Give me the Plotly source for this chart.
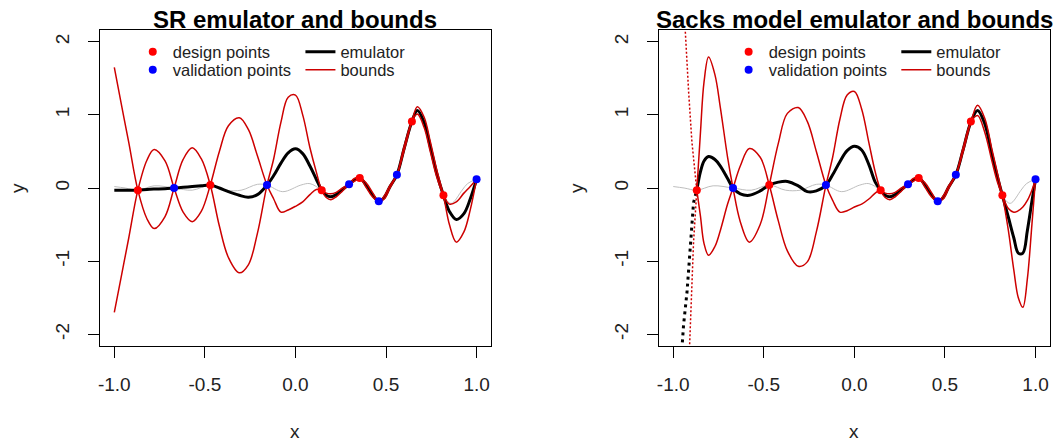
import plotly.graph_objects as go

W, H = 1060, 443
FONT = "Liberation Sans, Arial, sans-serif"

# ---- observations (same for both panels) ----
design_x = [-0.87, -0.47, 0.145, 0.355, 0.643, 0.817]
design_y = [-0.03, 0.04, -0.03, 0.137, 0.91, -0.10]
valid_x = [-0.67, -0.157, 0.296, 0.46, 0.56, 1.0]
valid_y = [0.0, 0.04, 0.05, -0.18, 0.18, 0.12]

# ---- true function ----
truth_x = [-1.0, -0.94, -0.87, -0.78, -0.67, -0.57, -0.47, -0.38, -0.30, -0.21,
           -0.157, -0.07, 0.03, 0.08, 0.145, 0.196, 0.26, 0.296, 0.355, 0.39,
           0.425, 0.46, 0.52, 0.56, 0.60, 0.643, 0.673, 0.71, 0.745, 0.78,
           0.817, 0.86, 0.92, 0.95, 1.0]
truth_y = [0.02, 0.0, -0.03, 0.03, 0.0, -0.03, 0.04, -0.03, -0.03, 0.05,
           0.04, -0.05, 0.04, 0.06, -0.03, -0.12, -0.02, 0.05, 0.137, 0.04,
           -0.09, -0.18, 0.01, 0.18, 0.53, 0.91, 1.06, 0.90, 0.56, 0.20,
           -0.10, -0.21, -0.03, 0.06, 0.12]

# ---- SR emulator (left panel) ----
sr_x = [-1.0, -0.96, -0.92, -0.87, -0.82, -0.78, -0.72, -0.67, -0.62, -0.57,
        -0.52, -0.47, -0.42, -0.37, -0.31, -0.26, -0.21, -0.157, -0.12, -0.08,
        -0.04, 0.0, 0.04, 0.08, 0.115, 0.145, 0.17, 0.196, 0.225, 0.26,
        0.296, 0.325, 0.355, 0.39, 0.425, 0.46, 0.49, 0.52, 0.56, 0.60,
        0.643, 0.673, 0.71, 0.745, 0.78, 0.817, 0.85, 0.888, 0.93, 0.965, 1.0]
sr_mean = [-0.03, -0.03, -0.03, -0.03, -0.02, -0.015, -0.01, 0.0, 0.01, 0.02,
           0.03, 0.04, 0.0, -0.05, -0.10, -0.125, -0.09, 0.04, 0.17, 0.34,
           0.48, 0.535, 0.47, 0.30, 0.12, -0.03, -0.10, -0.12, -0.09, -0.02,
           0.05, 0.11, 0.137, 0.04, -0.09, -0.18, -0.13, 0.01, 0.18, 0.54,
           0.91, 1.06, 0.90, 0.56, 0.20, -0.10, -0.32, -0.43, -0.35, -0.15, 0.12]
sr_bound_a = [1.65, 1.13, 0.62, -0.03, -0.42, -0.555, -0.39, 0.0, 0.39, 0.55,
              0.40, 0.04, -0.52, -0.95, -1.16, -1.05, -0.62, 0.04, 0.40, 0.90,
              1.24, 1.27, 1.0, 0.55, 0.22, -0.03, -0.13, -0.16, -0.12, -0.04,
              0.05, 0.13, 0.137, 0.01, -0.12, -0.18, -0.11, 0.03, 0.18, 0.51,
              0.91, 1.11, 0.97, 0.63, 0.25, -0.10, -0.50, -0.74, -0.60, -0.30, 0.12]
sr_bound_b = [-1.70, -1.19, -0.68, -0.03, 0.38, 0.525, 0.37, 0.0, -0.33, -0.46,
              -0.32, 0.04, 0.50, 0.85, 0.96, 0.80, 0.44, 0.04, -0.15, -0.33,
              -0.30, -0.25, -0.19, -0.09, -0.02, -0.03, -0.07, -0.08, -0.06, 0.0,
              0.05, 0.09, 0.137, 0.07, -0.06, -0.18, -0.15, -0.01, 0.18, 0.57,
              0.91, 1.01, 0.83, 0.49, 0.15, -0.10, -0.22, -0.19, -0.07, 0.02, 0.12]

# ---- Sacks model emulator (right panel) ----
sk_x = [-0.87, -0.85, -0.83, -0.805, -0.77, -0.74, -0.70, -0.67, -0.63, -0.58,
        -0.52, -0.47, -0.42, -0.37, -0.31, -0.26, -0.21, -0.157, -0.12, -0.08,
        -0.04, 0.0, 0.04, 0.08, 0.115, 0.145, 0.17, 0.196, 0.225, 0.26,
        0.296, 0.325, 0.355, 0.39, 0.425, 0.46, 0.49, 0.52, 0.56, 0.60,
        0.643, 0.68, 0.72, 0.76, 0.79, 0.817, 0.85, 0.88, 0.905, 0.93,
        0.955, 0.98, 1.0]
sk_mean = [-0.03, 0.22, 0.37, 0.43, 0.39, 0.30, 0.13, 0.0, -0.08, -0.10,
           -0.04, 0.04, 0.08, 0.09, 0.03, -0.05, -0.04, 0.04, 0.18, 0.36,
           0.51, 0.57, 0.52, 0.32, 0.08, -0.03, -0.10, -0.12, -0.09, -0.02,
           0.05, 0.11, 0.137, 0.04, -0.09, -0.18, -0.13, 0.01, 0.18, 0.52,
           0.90, 1.06, 0.88, 0.45, 0.15, -0.10, -0.40, -0.68, -0.89, -0.89,
           -0.58, -0.18, 0.12]
sk_bound_a = [-0.03, -0.38, -0.76, -0.92, -0.80, -0.58, -0.22, 0.0, 0.30, 0.54,
              0.42, 0.04, -0.45, -0.86, -1.07, -1.01, -0.60, 0.04, 0.42, 0.94,
              1.27, 1.32, 1.08, 0.62, 0.22, -0.03, -0.13, -0.16, -0.12, -0.04,
              0.05, 0.13, 0.137, 0.01, -0.12, -0.18, -0.11, 0.03, 0.18, 0.49,
              0.90, 1.13, 0.95, 0.52, 0.20, -0.10, -0.58, -1.12, -1.50, -1.63,
              -1.24, -0.50, 0.12]
sk_bound_b = [-0.03, 0.75, 1.45, 1.79, 1.55, 1.10, 0.42, 0.0, -0.46, -0.74,
              -0.50, 0.04, 0.61, 1.02, 1.10, 0.91, 0.50, 0.04, -0.17, -0.33,
              -0.31, -0.26, -0.22, -0.15, -0.07, -0.03, -0.07, -0.08, -0.06, 0.0,
              0.05, 0.09, 0.137, 0.07, -0.06, -0.18, -0.15, -0.01, 0.18, 0.55,
              0.90, 0.99, 0.76, 0.36, 0.08, -0.10, -0.28, -0.33, -0.31, -0.26,
              -0.17, -0.03, 0.12]
# steep branches near x = -1 where the Sacks emulator diverges
sk_mean_steep_x = [-0.955, -0.943, -0.924, -0.91, -0.897, -0.888, -0.87]
sk_mean_steep_y = [-2.30, -1.87, -1.42, -0.96, -0.51, -0.20, -0.03]
sk_a_steep_x = [-0.937, -0.934, -0.915, -0.897, -0.87]
sk_a_steep_y = [2.30, 2.15, 1.31, 0.63, -0.03]
sk_b_steep_x = [-0.912, -0.91, -0.897, -0.888, -0.87]
sk_b_steep_y = [-2.30, -2.17, -1.42, -0.74, -0.03]

x_ticks = [-1.0, -0.5, 0.0, 0.5, 1.0]
x_tick_text = ["-1.0", "-0.5", "0.0", "0.5", "1.0"]
y_ticks = [-2, -1, 0, 1, 2]
y_tick_text = ["-2", "-1", "0", "1", "2"]
titles = ["SR emulator and bounds", "Sacks model emulator and bounds"]

RED_LINE = "#CD0000"
GRAY = "#BEBEBE"

# panel frames in pixels
PANELS = [(98, 490), (658, 1050)]
TOP, BOTTOM = 30, 346


def fx(px):
    return px / W


def fy(py):
    return 1 - py / H


fig = go.Figure()

panels = [
    dict(x=sr_x, mean=sr_mean, a=sr_bound_a, b=sr_bound_b, steep=None),
    dict(x=sk_x, mean=sk_mean, a=sk_bound_a, b=sk_bound_b, steep=True),
]

for i, p in enumerate(panels):
    xa = "x" if i == 0 else "x2"
    ya = "y" if i == 0 else "y2"
    lg = [f"legend{4 * i + k}" if 4 * i + k > 1 else "legend" for k in range(1, 5)]

    fig.add_trace(go.Scatter(x=truth_x, y=truth_y, mode="lines", xaxis=xa, yaxis=ya,
                             line=dict(color=GRAY, width=1, shape="spline"),
                             showlegend=False, hoverinfo="skip"))
    fig.add_trace(go.Scatter(x=p["x"], y=p["mean"], mode="lines", xaxis=xa, yaxis=ya,
                             name="emulator", legend=lg[2],
                             line=dict(color="black", width=3, shape="spline")))
    fig.add_trace(go.Scatter(x=p["x"], y=p["a"], mode="lines", xaxis=xa, yaxis=ya,
                             name="bounds", legend=lg[3],
                             line=dict(color=RED_LINE, width=1.5, shape="spline")))
    fig.add_trace(go.Scatter(x=p["x"], y=p["b"], mode="lines", xaxis=xa, yaxis=ya,
                             showlegend=False,
                             line=dict(color=RED_LINE, width=1.5, shape="spline")))
    if p["steep"]:
        fig.add_trace(go.Scatter(x=sk_mean_steep_x, y=sk_mean_steep_y, mode="lines",
                                 xaxis=xa, yaxis=ya, showlegend=False,
                                 line=dict(color="black", width=3, dash="3px,4px")))
        for sx, sy in ((sk_a_steep_x, sk_a_steep_y), (sk_b_steep_x, sk_b_steep_y)):
            fig.add_trace(go.Scatter(x=sx, y=sy, mode="lines", xaxis=xa, yaxis=ya,
                                     showlegend=False,
                                     line=dict(color=RED_LINE, width=1.5, dash="2px,2px")))
    fig.add_trace(go.Scatter(x=design_x, y=design_y, mode="markers", xaxis=xa, yaxis=ya,
                             name="design points", legend=lg[0],
                             marker=dict(color="#FF0000", size=8)))
    fig.add_trace(go.Scatter(x=valid_x, y=valid_y, mode="markers", xaxis=xa, yaxis=ya,
                             name="validation points", legend=lg[1],
                             marker=dict(color="#0000FF", size=8)))

axis_common = dict(showgrid=False, zeroline=False, showline=True, linecolor="black",
                   linewidth=1, mirror=True, ticks="outside", ticklen=11, tickwidth=1,
                   tickcolor="black", tickfont=dict(family=FONT, size=19, color="#222"),
                   fixedrange=True)

layout = dict(
    width=W, height=H, margin=dict(l=0, r=0, t=0, b=0),
    paper_bgcolor="white", plot_bgcolor="white",
    font=dict(family=FONT, color="#222"),
    annotations=[],
)
for i, (x0, x1) in enumerate(PANELS):
    sfx = "" if i == 0 else "2"
    layout["xaxis" + sfx] = dict(axis_common, domain=[fx(x0), fx(x1)], range=[-1.08, 1.08],
                                 tickvals=x_ticks, ticktext=x_tick_text,
                                 anchor="y" + sfx, ticklabelstandoff=10)
    layout["yaxis" + sfx] = dict(axis_common, domain=[fy(BOTTOM), fy(TOP)], range=[-2.16, 2.16],
                                 tickvals=y_ticks, ticktext=y_tick_text, tickangle=-90,
                                 anchor="x" + sfx, ticklabelstandoff=11)
    cx = (x0 + x1) / 2
    layout["annotations"] += [
        dict(text=titles[i], x=fx(cx), y=fy(20), xref="paper", yref="paper",
             xanchor="center", yanchor="middle", showarrow=False,
             font=dict(family=FONT, size=24, color="black", weight="bold")),
        dict(text="x", x=fx(cx), y=0, xref="paper", yref="paper",
             xanchor="center", yanchor="bottom", showarrow=False, borderpad=0,
             font=dict(family=FONT, size=19, color="#222")),
        dict(text="y", x=fx(x0 - 83), y=fy((TOP + BOTTOM) / 2), xref="paper", yref="paper",
             xanchor="center", yanchor="middle", showarrow=False, textangle=-90,
             font=dict(family=FONT, size=19, color="#222")),
    ]

# legend entries: (left px of legend box, centre y px)
legend_pos = [(131, 52), (131, 70), (299, 52), (299, 70),
              (728, 52), (728, 70), (896, 52), (896, 70)]
for k, (lx, ly) in enumerate(legend_pos):
    key = "legend" if k == 0 else f"legend{k + 1}"
    layout[key] = dict(x=fx(lx), y=fy(ly), xanchor="left", yanchor="middle",
                       bgcolor="rgba(0,0,0,0)", borderwidth=0,
                       font=dict(family=FONT, size=16.5, color="#222"))

fig.update_layout(**layout)
fig.write_html("out.html")
